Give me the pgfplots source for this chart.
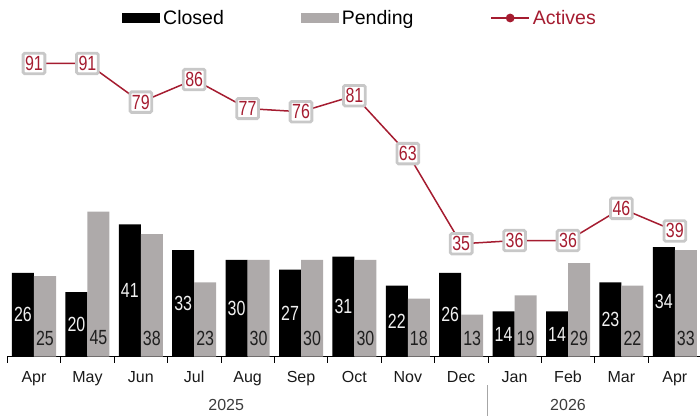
\documentclass[border=0pt]{standalone}
\usepackage{pgfplots}
\usepackage{pgfplotstable}
\pgfplotsset{compat=1.18}
\usepackage{fontspec}
\setmainfont{Liberation Sans}
\newfontfamily\narrowfont[FakeStretch=0.78]{Liberation Sans}
\definecolor{actred}{RGB}{165,28,48}
\definecolor{pendgray}{RGB}{174,170,170}
\definecolor{boxgray}{RGB}{200,200,200}
\definecolor{yeargray}{RGB}{60,60,60}

\pgfplotstableread{
x closed pending actives
0 26 25 91
1 20 45 91
2 41 38 79
3 33 23 86
4 30 30 77
5 27 30 76
6 31 30 81
7 22 18 63
8 26 13 35
9 14 19 36
10 14 29 36
11 23 22 46
12 34 33 39
}\datatable

\begin{document}
\begin{tikzpicture}
\begin{axis}[
  scale only axis, width=694.2pt, height=322pt,
  xmin=-0.5, xmax=12.5, ymin=0, ymax=100,
  /pgf/number format/assume math mode=true,
  axis x line*=bottom, axis y line=none,
  x axis line style={-, black, line width=0.9pt},
  xtick={0,...,12},
  xticklabels={Apr,May,Jun,Jul,Aug,Sep,Oct,Nov,Dec,Jan,Feb,Mar,Apr},
  major tick length=0pt,
  extra x ticks={-0.5,0.5,1.5,2.5,3.5,4.5,5.5,6.5,7.5,8.5,9.5,10.5,11.5,12.5},
  extra x tick labels={},
  extra x tick style={major tick length=6pt, tick align=outside, tick style={black, line width=0.8pt}},
  xticklabel style={font=\fontsize{16}{16}\selectfont, anchor=base, yshift=-25.5pt, text=black!90},
  clip=false,
  legend columns=3,
  legend cell align=left,
  legend style={draw=none, fill=none, at={(axis description cs:0.1655,1.0512)}, anchor=west,
    inner sep=0pt, outer sep=0pt,
    font=\fontsize{19.5}{19.5}\selectfont,
    nodes={inner xsep=3pt, inner ysep=0pt},
    /tikz/every even column/.append style={column sep=74pt}},
]
\addplot[ybar, bar width=22pt, bar shift=-11pt, fill=black, draw=none,
  legend image code/.code={\fill[black] (0pt,-5.3pt) rectangle (38pt,5.3pt);}]
  table[x=x, y=closed] {\datatable};
\addlegendentry{Closed}
\addplot[ybar, bar width=22pt, bar shift=11pt, fill=pendgray, draw=none,
  legend image code/.code={\fill[pendgray] (0pt,-5.3pt) rectangle (38pt,5.3pt);}]
  table[x=x, y=pending] {\datatable};
\addlegendentry{Pending}
\addplot[sharp plot, actred, line width=1.5pt, mark=none,
  legend image code/.code={\draw[actred, line width=1.5pt] (0pt,0pt) -- (38pt,0pt); \fill[actred] (19pt,0pt) circle (3.6pt);},
  nodes near coords,
  every node near coord/.append style={anchor=center, font=\narrowfont\fontsize{20.5}{20.5}\selectfont,
    text=actred, fill=white, draw=boxgray, line width=2.8pt, rounded corners=1.5pt,
    inner xsep=2pt, inner ysep=3pt}]
  table[x=x, y=actives] {\datatable};
\addlegendentry{\textcolor{actred}{Actives}}
% value labels of the bars
\addplot[draw=none, mark=none, forget plot, point meta=explicit,
  nodes near coords,
  every node near coord/.append style={anchor=center, xshift=-11pt,
    font=\narrowfont\fontsize{20.5}{20.5}\selectfont, text=black!6, inner sep=0pt}]
  table[x=x, y expr=\thisrow{closed}/2, meta=closed] {\datatable};
\addplot[draw=none, mark=none, forget plot, point meta=explicit,
  nodes near coords,
  every node near coord/.append style={anchor=center, xshift=11pt, yshift=18.5pt,
    font=\narrowfont\fontsize{20.5}{20.5}\selectfont, text=black!88, inner sep=0pt}]
  table[x=x, y expr=0, meta=pending] {\datatable};
\node[anchor=base, font=\fontsize{16}{16}\selectfont, text=yeargray] at (axis cs:3.6,0) [yshift=-53.5pt] {2025};
\node[anchor=base, font=\fontsize{16}{16}\selectfont, text=yeargray] at (axis cs:10,0) [yshift=-53.5pt] {2026};
\draw[black!35, line width=1pt] (axis cs:8.5,0) ++(0pt,-28.5pt) -- ++(0pt,-31pt);
\end{axis}
\pgfresetboundingbox
\path[use as bounding box] (-7.3pt,-58.5pt) rectangle (692.7pt,356.5pt);
\end{tikzpicture}
\end{document}
